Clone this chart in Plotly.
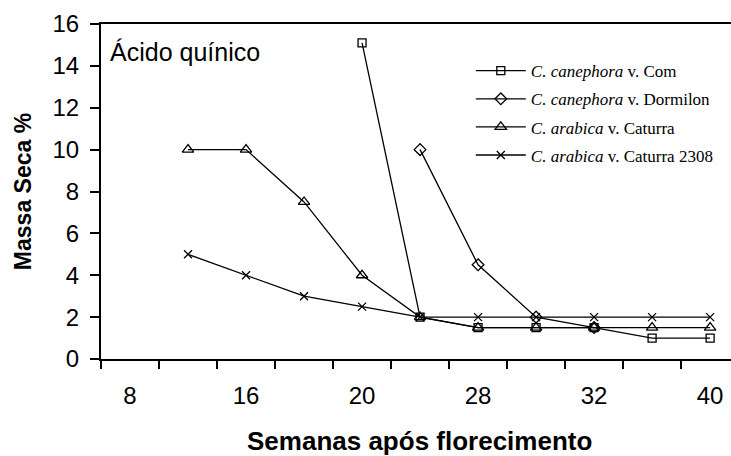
import plotly.graph_objects as go

# Category slots along the x axis (11 evenly spaced positions), labels on every other slot
slot_tick_positions = [0, 2, 4, 6, 8, 10]
tick_labels = ["8", "16", "20", "28", "32", "40"]

# Series (x = slot index, y = Massa Seca %)
com_x = [4, 5, 6, 7, 8, 9, 10]
com_y = [15.1, 2.0, 1.5, 1.5, 1.5, 1.0, 1.0]

dormilon_x = [5, 6, 7, 8]
dormilon_y = [10.0, 4.5, 2.0, 1.5]

caturra_x = [1, 2, 3, 4, 5, 6, 7, 8, 9, 10]
caturra_y = [10.0, 10.0, 7.5, 4.0, 2.0, 1.5, 1.5, 1.5, 1.5, 1.5]

caturra2308_x = [1, 2, 3, 4, 5, 6, 7, 8, 9, 10]
caturra2308_y = [5.0, 4.0, 3.0, 2.5, 2.0, 2.0, 2.0, 2.0, 2.0, 2.0]

names = [
    "<i>C. canephora</i> v. Com",
    "<i>C. canephora</i> v. Dormilon",
    "<i>C. arabica</i> v. Caturra",
    "<i>C. arabica</i> v. Caturra 2308",
]

fig = go.Figure()
series = [
    (com_x, com_y, "square-open", 8),
    (dormilon_x, dormilon_y, "diamond-open", 9),
    (caturra_x, caturra_y, "triangle-up-open", 10),
    (caturra2308_x, caturra2308_y, "x-thin-open", 8),
]
for i, ((xs, ys, sym, sz), nm) in enumerate(zip(series, names)):
    fig.add_trace(go.Scatter(
        x=xs, y=ys, name=nm, mode="lines+markers",
        legendgroup=f"g{i}",
        line=dict(color="black", width=1.3),
        marker=dict(symbol=sym, size=sz, color="black",
                    line=dict(color="black", width=1.3)),
    ))

fig.update_layout(
    width=731, height=456,
    margin=dict(l=101, r=0, t=24, b=97, autoexpand=False),
    plot_bgcolor="white", paper_bgcolor="white",
    font=dict(family="Liberation Sans, Arial, sans-serif", color="black"),
    showlegend=True,
    legend=dict(
        x=0.587, y=0.913, xanchor="left", yanchor="top",
        font=dict(family="Liberation Serif, Times New Roman, serif", size=17, color="black"),
        bgcolor="rgba(0,0,0,0)", traceorder="grouped", tracegroupgap=3,
        itemwidth=50,
    ),
    annotations=[
        dict(
            text="Ácido quínico", x=0.011, y=0.915, xref="paper", yref="paper",
            xanchor="left", yanchor="middle", showarrow=False,
            font=dict(family="Liberation Sans, Arial, sans-serif", size=25, color="black"),
        ),
        dict(
            text="<b>Semanas após florecimento</b>", x=0.506, y=-0.244,
            xref="paper", yref="paper", xanchor="center", yanchor="middle",
            showarrow=False,
            font=dict(family="Liberation Sans, Arial, sans-serif", size=26, color="black"),
        ),
    ],
)

fig.update_xaxes(
    automargin=False,
    range=[-0.5, 10.36],
    tickmode="array", tickvals=slot_tick_positions, ticktext=tick_labels,
    ticks="", showgrid=False, zeroline=False,
    showline=True, linecolor="black", linewidth=2, mirror=True,
    tickfont=dict(size=24),
    ticklabelstandoff=14,
    minor=dict(tickvals=[-0.5 + i for i in range(12)], ticks="outside",
               ticklen=8, tickwidth=1.5, tickcolor="black", showgrid=False),
)
fig.update_yaxes(
    automargin=False,
    range=[0, 16], dtick=2, tick0=0,
    ticks="outside", ticklen=9, tickwidth=1.5, tickcolor="black",
    showgrid=False, zeroline=False,
    showline=True, linecolor="black", linewidth=2,
    tickfont=dict(size=24),
    ticklabelstandoff=6,
    title=dict(text="<b>Massa Seca %</b>", font=dict(size=23), standoff=14),
)

fig.write_html("out.html", config={"displayModeBar": False},
               post_script="document.body.style.margin='0px';")
